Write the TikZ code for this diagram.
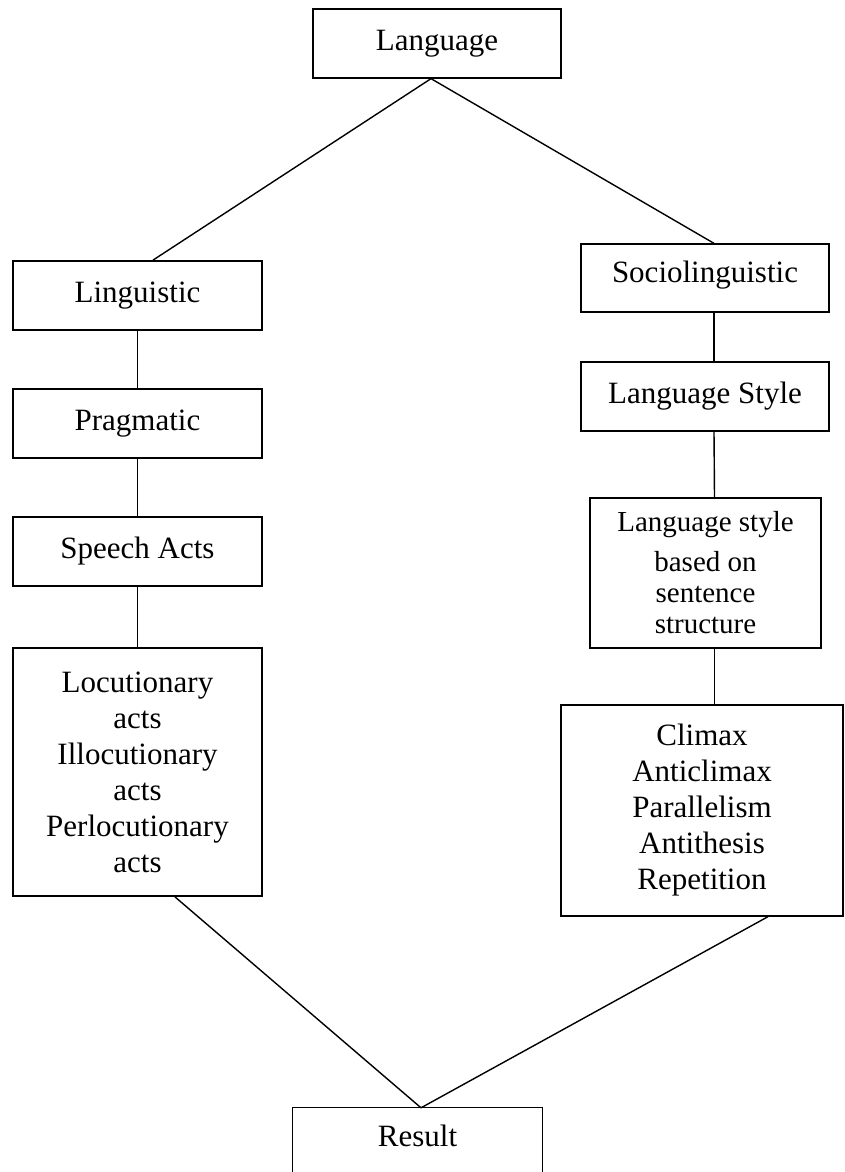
\documentclass[tikz,border=0pt]{standalone}
\usepackage{fontspec}
\setmainfont{Liberation Serif}
\usetikzlibrary{calc}
\begin{document}
\begin{tikzpicture}[x=1pt,y=-1pt,
  boxL/.style={draw, line width=1.8pt, inner sep=0pt, align=center, font=\fontsize{31}{36}\selectfont},
  boxR/.style={draw, line width=1.3pt, inner sep=0pt, align=center, font=\fontsize{31}{36}\selectfont},
  link/.style={line width=1.4pt}]
\useasboundingbox (0,0) rectangle (844,1172);
\clip (0,0) rectangle (844,1172);
% top
\node[boxR, minimum width=248pt, minimum height=69pt] (lang) at (437,43.5) {Language};
% left column
\node[boxL, minimum width=249pt, minimum height=69pt] (ling) at (137.5,295.5) {Linguistic};
\node[boxL, minimum width=249pt, minimum height=69pt] (prag) at (137.5,423.5) {Pragmatic};
\node[boxL, minimum width=249pt, minimum height=69pt] (speech) at (137.5,551.5) {Speech Acts};
\node[boxL, minimum width=249pt, minimum height=248pt] (locu) at (137.5,772) {Locutionary\\acts\\Illocutionary\\acts\\Perlocutionary\\acts};
% right column
\node[boxR, minimum width=248pt, minimum height=68pt, text depth=12pt] (socio) at (705,278) {Sociolinguistic};
\node[boxR, minimum width=248pt, minimum height=69pt] (lstyle) at (705,396.5) {Language Style};
\node[boxR, minimum width=231pt, minimum height=150pt, font=\fontsize{29}{31}\selectfont] (based) at (705.5,573) {Language style\\[9pt]based on\\sentence\\structure};
\node[boxR, minimum width=282pt, minimum height=211pt] (climax) at (702,810.5) {Climax\\Anticlimax\\Parallelism\\Antithesis\\Repetition};
% bottom
\node[inner sep=0pt, minimum width=249pt, minimum height=56pt, font=\fontsize{31}{36}\selectfont] (result) at (417.5,1136) {Result};
\draw[line width=1.3pt] ($(result.north west)+(0,80)$) -- (result.north west) -- (result.north east) -- ($(result.north east)+(0,80)$);
% connectors
\draw[link] ($(lang.south west)!0.476!(lang.south east)$) -- ($(ling.north west)!0.562!(ling.north east)$);
\draw[link] ($(lang.south west)!0.476!(lang.south east)$) -- ($(socio.north)+(9,0)$);
\draw[link] (ling.south) -- (prag.north);
\draw[link] (prag.south) -- (speech.north);
\draw[link] (speech.south) -- (locu.north);
\draw[link] ($(socio.south)+(9,0)$) -- ($(lstyle.north)+(9,0)$);
\draw[link] ($(lstyle.south)+(9,0)$) -- ($(based.north)+(9,0)$);
\draw[link] ($(based.south)+(9,0)$) -- ($(climax.north)+(12.5,0)$);
\draw[link] ($(locu.south)+(37.5,0)$) -- ($(result.north)+(3.5,0)$);
\draw[link] ($(climax.south)+(66,0)$) -- ($(result.north)+(3.5,0)$);
\end{tikzpicture}
\end{document}
